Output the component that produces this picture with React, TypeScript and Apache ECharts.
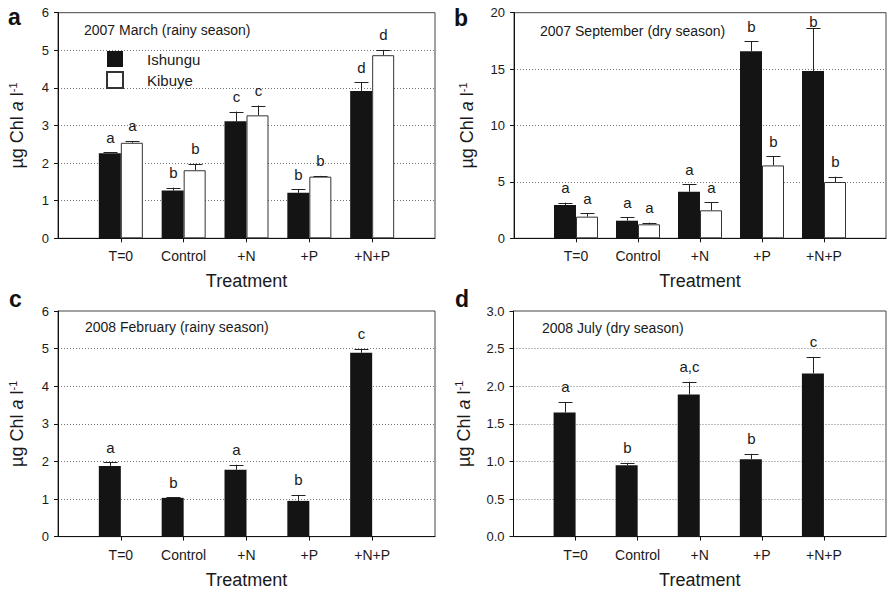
import React, { useEffect, useRef } from 'react';
import * as echarts from 'echarts';

const categories = ['T=0', 'Control', '+N', '+P', '+N+P'];

// Panel a: 2007 March (rainy season)
const aIshungu = [2.26, 1.27, 3.11, 1.21, 3.92];
const aIshunguErr = [0.03, 0.08, 0.26, 0.1, 0.23];
const aIshunguLetters = ['a', 'b', 'c', 'b', 'd'];
const aKibuye = [2.54, 1.81, 3.27, 1.64, 4.87];
const aKibuyeErr = [0.05, 0.17, 0.26, 0.02, 0.14];
const aKibuyeLetters = ['a', 'b', 'c', 'b', 'd'];

// Panel b: 2007 September (dry season)
const bIshungu = [2.95, 1.56, 4.13, 16.58, 14.84];
const bIshunguErr = [0.21, 0.3, 0.65, 0.91, 3.8];
const bIshunguLetters = ['a', 'a', 'a', 'b', 'b'];
const bKibuye = [1.92, 1.24, 2.48, 6.46, 4.99];
const bKibuyeErr = [0.29, 0.15, 0.71, 0.8, 0.47];
const bKibuyeLetters = ['a', 'a', 'a', 'b', 'b'];

// Panel c: 2008 February (rainy season)
const cIshungu = [1.88, 1.03, 1.78, 0.95, 4.89];
const cIshunguErr = [0.1, 0.02, 0.13, 0.16, 0.1];
const cIshunguLetters = ['a', 'b', 'a', 'b', 'c'];

// Panel d: 2008 July (dry season)
const dIshungu = [1.65, 0.95, 1.89, 1.03, 2.17];
const dIshunguErr = [0.14, 0.03, 0.17, 0.07, 0.22];
const dIshunguLetters = ['a', 'b', 'a,c', 'b', 'c'];

const yMax = [6, 20, 6, 3];
const yInterval = [1, 5, 1, 0.5];
const panelTitles = [
  '2007 March (rainy season)',
  '2007 September (dry season)',
  '2008 February (rainy season)',
  '2008 July (dry season)',
];
const panelLetters = ['a', 'b', 'c', 'd'];

const FONT = '"Liberation Sans", Arial, Helvetica, sans-serif';

type PanelData = {
  ish: number[];
  ishErr: number[];
  ishLet: string[];
  kib: number[] | null;
  kibErr: number[] | null;
  kibLet: string[] | null;
};

const panels: PanelData[] = [
  { ish: aIshungu, ishErr: aIshunguErr, ishLet: aIshunguLetters, kib: aKibuye, kibErr: aKibuyeErr, kibLet: aKibuyeLetters },
  { ish: bIshungu, ishErr: bIshunguErr, ishLet: bIshunguLetters, kib: bKibuye, kibErr: bKibuyeErr, kibLet: bKibuyeLetters },
  { ish: cIshungu, ishErr: cIshunguErr, ishLet: cIshunguLetters, kib: null, kibErr: null, kibLet: null },
  { ish: dIshungu, ishErr: dIshunguErr, ishLet: dIshunguLetters, kib: null, kibErr: null, kibLet: null },
];

// layout (pixels)
const GRID_W = 377;
const GRID_H = 225.6;
const gridPos = [
  { left: 58, top: 12.7 },
  { left: 514, top: 12.7 },
  { left: 58, top: 311 },
  { left: 513.5, top: 311 },
];
const yNameGap = [31, 37, 31, 40];
const titlePos = [
  { x: 84, y: 30 },
  { x: 540, y: 31 },
  { x: 85, y: 327 },
  { x: 542, y: 328 },
];
const letterPos = [
  { x: 8, y: 17 },
  { x: 454, y: 18 },
  { x: 9, y: 299 },
  { x: 455, y: 299 },
];
const BAR_W = 22;

function errorSeries(
  gi: number,
  values: number[],
  errs: number[],
  letters: string[],
  offset: number
) {
  const data = values.map((v, i) => [i + 1, v, v + errs[i]]);
  return {
    type: 'custom',
    xAxisIndex: gi,
    yAxisIndex: gi,
    z: 5,
    encode: { x: 0, y: 1 },
    data,
    renderItem: (params: any, api: any) => {
      const x = api.value(0);
      const v = api.value(1);
      const e = api.value(2);
      const p0 = api.coord([x, v]);
      const p1 = api.coord([x, e]);
      const cx = Math.round(p0[0] + offset) + 0.5;
      const cs = params.coordSys;
      const ly = Math.max(p1[1] - 15, cs.y + 9);
      return {
        type: 'group',
        children: [
          {
            type: 'line',
            shape: { x1: cx, y1: p0[1], x2: cx, y2: p1[1] },
            style: { stroke: '#222', lineWidth: 1 },
          },
          {
            type: 'line',
            shape: { x1: cx - 7, y1: Math.round(p1[1]) + 0.5, x2: cx + 7, y2: Math.round(p1[1]) + 0.5 },
            style: { stroke: '#222', lineWidth: 1 },
          },
          {
            type: 'text',
            x: cx,
            y: ly,
            style: {
              text: letters[params.dataIndex],
              fill: '#1a1a1a',
              font: `15px ${FONT}`,
              align: 'center',
              verticalAlign: 'middle',
            },
          },
        ],
      };
    },
  };
}

function buildOption() {
  const grid: any[] = [];
  const xAxis: any[] = [];
  const yAxis: any[] = [];
  const series: any[] = [];
  const graphic: any[] = [];

  panels.forEach((p, gi) => {
    grid.push({
      left: gridPos[gi].left,
      top: gridPos[gi].top,
      width: GRID_W,
      height: GRID_H,
      show: true,
      borderColor: '#444',
      borderWidth: 1,
      backgroundColor: 'transparent',
    });
    xAxis.push({
      type: 'category',
      gridIndex: gi,
      data: ['', ...categories, ''],
      boundaryGap: false,
      axisLine: { show: true, lineStyle: { color: '#111', width: 1 } },
      axisTick: {
        show: true,
        length: 4,
        interval: (idx: number) => idx > 0 && idx < 6,
        lineStyle: { color: '#111' },
      },
      axisLabel: { fontSize: 14, color: '#1a1a1a', margin: 11, interval: 0, fontFamily: FONT },
      splitLine: { show: false },
      name: 'Treatment',
      nameLocation: 'middle',
      nameGap: 34,
      nameTextStyle: { fontSize: 18, color: '#1a1a1a', fontFamily: FONT },
    });
    const dec = yInterval[gi] < 1;
    yAxis.push({
      type: 'value',
      gridIndex: gi,
      min: 0,
      max: yMax[gi],
      interval: yInterval[gi],
      axisLine: { show: true, lineStyle: { color: '#111', width: 1 } },
      axisTick: { show: true, length: 4, lineStyle: { color: '#111' } },
      axisLabel: {
        fontSize: 13,
        color: '#1a1a1a',
        margin: 9,
        fontFamily: FONT,
        formatter: (v: number) => (dec ? v.toFixed(1) : String(v)),
      },
      splitLine: {
        show: true,
        showMinLine: false,
        showMaxLine: false,
        lineStyle: { color: '#777', type: [1, 2], width: 1 },
      },
      name: '{n|µg Chl }{i|a}{n| l}{s|-1}',
      nameLocation: 'middle',
      nameGap: yNameGap[gi],
      nameTextStyle: {
        rich: {
          n: { fontSize: 18, color: '#1a1a1a', fontFamily: FONT, lineHeight: 20 },
          i: { fontSize: 18, color: '#1a1a1a', fontFamily: FONT, fontStyle: 'italic', lineHeight: 20 },
          s: { fontSize: 11, color: '#1a1a1a', fontFamily: FONT, lineHeight: 20, verticalAlign: 'top', padding: [0, 0, 8, 0] },
        },
      },
    });

    series.push({
      type: 'bar',
      name: 'Ishungu',
      xAxisIndex: gi,
      yAxisIndex: gi,
      barWidth: BAR_W,
      barGap: '0%',
      data: [null, ...p.ish, null],
      itemStyle: { color: '#141414', borderColor: '#000', borderWidth: 0 },
    });
    series.push({
      type: 'bar',
      name: 'Kibuye',
      xAxisIndex: gi,
      yAxisIndex: gi,
      barWidth: BAR_W,
      barGap: '0%',
      data: p.kib ? [null, ...p.kib, null] : [null, null, null, null, null, null, null],
      itemStyle: { color: '#ffffff', borderColor: '#333', borderWidth: 1 },
    });
    series.push(errorSeries(gi, p.ish, p.ishErr, p.ishLet, -BAR_W / 2));
    if (p.kib && p.kibErr && p.kibLet) {
      series.push(errorSeries(gi, p.kib, p.kibErr, p.kibLet, BAR_W / 2));
    }

    graphic.push({
      type: 'text',
      x: titlePos[gi].x,
      y: titlePos[gi].y,
      style: {
        text: panelTitles[gi],
        font: `14px ${FONT}`,
        fill: '#1a1a1a',
        align: 'left',
        verticalAlign: 'middle',
      },
    });
    graphic.push({
      type: 'text',
      x: letterPos[gi].x,
      y: letterPos[gi].y,
      style: {
        text: panelLetters[gi],
        font: `bold 23px ${FONT}`,
        fill: '#111',
        align: 'left',
        verticalAlign: 'middle',
      },
    });
  });

  return {
    animation: false,
    backgroundColor: '#ffffff',
    textStyle: { fontFamily: FONT },
    grid,
    xAxis,
    yAxis,
    series,
    graphic,
    legend: {
      data: ['Ishungu', 'Kibuye'],
      orient: 'vertical',
      left: 106,
      top: 51,
      padding: 0,
      itemWidth: 16,
      itemHeight: 16,
      itemGap: 4,
      icon: 'rect',
      selectedMode: false,
      textStyle: { fontSize: 15, lineHeight: 16, color: '#1a1a1a', fontFamily: FONT, padding: [0, 0, 0, 19] },
    },
  };
}

export default function App() {
  const ref = useRef<HTMLDivElement>(null);
  useEffect(() => {
    if (!ref.current) return;
    const chart = echarts.init(ref.current, undefined, { renderer: 'svg' });
    chart.setOption(buildOption() as any);
    return () => chart.dispose();
  }, []);
  return (
    <div
      ref={ref}
      style={{ position: 'absolute', left: 0, top: 0, width: 889, height: 594, background: '#fff' }}
    />
  );
}
